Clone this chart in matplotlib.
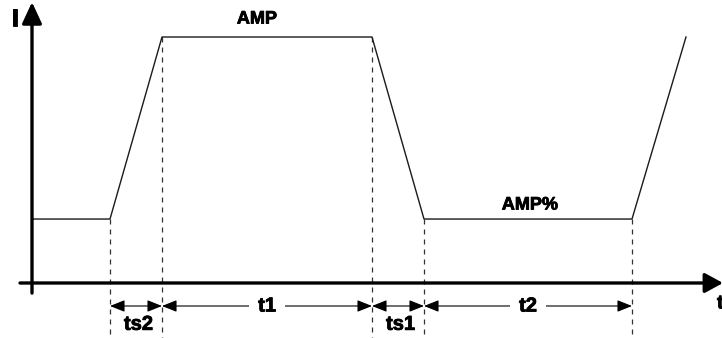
import numpy as np
import matplotlib
matplotlib.use("Agg")
import matplotlib.pyplot as plt
import matplotlib.patheffects as pe
from matplotlib.patches import FancyArrowPatch

# segment names and durations (arbitrary time units, 1 unit ~ 1 px)
seg_names = ["pre", "ts2", "t1", "ts1", "t2", "rise"]
seg_durations = [78, 52, 210, 52, 208, 54]
# current level at each segment edge
amp = 100
amp_pct = 26
edge_levels = [amp_pct, amp_pct, amp, amp, amp_pct, amp_pct, amp]

# labels under the time axis
dim_labels = ["ts2", "t1", "ts1", "t2"]
dim_inline = [False, True, False, True]

edges = np.concatenate([[0], np.cumsum(seg_durations)])

plt.rcParams['font.family'] = ['Liberation Sans', 'DejaVu Sans']
heavy = [pe.withStroke(linewidth=0.6, foreground='black')]

fig = plt.figure(figsize=(7.22, 3.38), dpi=100)
ax = fig.add_axes([0, 0, 1, 1])
ax.set_xlim(-32, 690)
ax.set_ylim(-22.36, 115.04)
ax.axis('off')

# axes with arrows
ax.add_patch(FancyArrowPatch((-12, 0), (691, 0), arrowstyle='-|>,head_length=11,head_width=6',
                             lw=2.4, color='black', shrinkA=0, shrinkB=0, zorder=5))
ax.add_patch(FancyArrowPatch((0, -4.1), (0, 114.2), arrowstyle='-|>,head_length=13,head_width=6',
                             lw=2.4, color='black', shrinkA=0, shrinkB=0, zorder=5))
ax.text(-17, 107.3, "I", fontsize=17, fontweight='bold', ha='center', va='center', path_effects=heavy)
ax.text(685, -8.5, "t", fontsize=14, fontweight='bold', ha='left', va='center', path_effects=heavy)

# waveform
ax.plot(edges, edge_levels, color='#1a1a1a', lw=1.0, zorder=4)

# dashed guide lines at the transitions
for x, lvl in zip(edges[1:6], edge_levels[1:6]):
    ax.plot([x, x], [lvl, -22.36], color='#333333', lw=0.9, ls=(0, (4, 4)), zorder=3)

# dimension arrows
y_dim = -9.35
for i, (lab, inline) in enumerate(zip(dim_labels, dim_inline)):
    x0, x1 = edges[i + 1], edges[i + 2]
    ax.add_patch(FancyArrowPatch((x0, y_dim), (x1, y_dim),
                                 arrowstyle='<|-|>,head_length=9,head_width=3.6',
                                 lw=0.8, color='black', shrinkA=0, shrinkB=0, zorder=4))
    xm = (x0 + x1) / 2
    if inline:
        ax.text(xm, y_dim, lab, fontsize=14.5, fontweight='bold', ha='center', va='center',
                bbox=dict(boxstyle='square,pad=0.45', fc='white', ec='none'), zorder=6,
                path_effects=heavy)
    else:
        ax.text(xm + 2.5, -16.8, lab, fontsize=14.5, fontweight='bold', ha='center', va='center',
                zorder=6, path_effects=heavy)

ax.text(225, 107.3, "AMP", fontsize=13, fontweight='bold', ha='center', va='center', path_effects=heavy)
ax.text(498, 31.7, "AMP%", fontsize=13, fontweight='bold', ha='center', va='center', path_effects=heavy)

fig.savefig("out.png", dpi=100)
